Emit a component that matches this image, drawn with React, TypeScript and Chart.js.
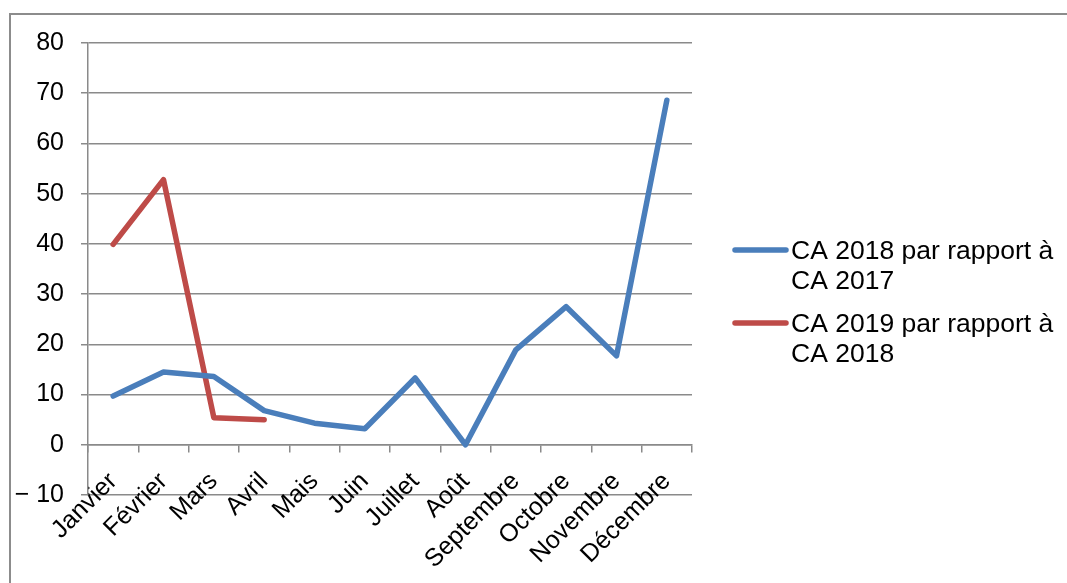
import React, { useEffect, useRef } from "react";
import { Chart, registerables } from "chart.js";

Chart.register(...registerables);

const months = [
  "Janvier", "Février", "Mars", "Avril", "Mais", "Juin",
  "Juillet", "Août", "Septembre", "Octobre", "Novembre", "Décembre",
];
const ca2018vs2017 = [9.7, 14.5, 13.6, 6.8, 4.3, 3.2, 13.3, 0, 18.9, 27.5, 17.7, 68.6];
const ca2019vs2018 = [39.9, 52.8, 5.4, 5.0, null, null, null, null, null, null, null, null];
const seriesNames = [
  ["CA 2018 par rapport à", "CA 2017"],
  ["CA 2019 par rapport à", "CA 2018"],
];
const seriesColors = ["#4A7EBB", "#BE4B48"];
const yMin = -10;
const yMax = 80;
const yStep = 10;

const FONT = "'Liberation Sans', Arial, sans-serif";
const GRID = "#8a8a8a";

const sideLegend = {
  id: "sideLegend",
  afterDraw(chart: any) {
    const ctx = chart.ctx as CanvasRenderingContext2D;
    ctx.save();
    ctx.font = `26.5px ${FONT}`;
    ctx.fillStyle = "#000";
    ctx.textBaseline = "alphabetic";
    ctx.textAlign = "left";
    seriesNames.forEach((lines, i) => {
      const base = 259 + i * 73;
      ctx.strokeStyle = seriesColors[i];
      ctx.lineWidth = 5.5;
      ctx.lineCap = "round";
      ctx.beginPath();
      ctx.moveTo(735, base - 9);
      ctx.lineTo(786, base - 9);
      ctx.stroke();
      lines.forEach((t, j) => ctx.fillText(t, 791, base + j * 29.5));
    });
    ctx.restore();
  },
};

export default function App() {
  const ref = useRef<HTMLCanvasElement | null>(null);

  useEffect(() => {
    if (!ref.current) return;
    const chart = new Chart(ref.current, {
      type: "line",
      data: {
        labels: months,
        datasets: [
          {
            label: seriesNames[0].join(" "),
            data: ca2018vs2017,
            borderColor: seriesColors[0],
            backgroundColor: seriesColors[0],
            borderWidth: 5.5,
            pointRadius: 0,
            tension: 0,
            borderCapStyle: "round",
            borderJoinStyle: "round",
          },
          {
            label: seriesNames[1].join(" "),
            data: ca2019vs2018,
            borderColor: seriesColors[1],
            backgroundColor: seriesColors[1],
            borderWidth: 5.5,
            pointRadius: 0,
            tension: 0,
            borderCapStyle: "round",
            borderJoinStyle: "round",
          },
        ],
      },
      options: {
        responsive: false,
        animation: false,
        layout: { padding: { top: 43, right: 375, bottom: 88, left: 0 } },
        plugins: { legend: { display: false }, tooltip: { enabled: false } },
        scales: {
          x: {
            type: "category",
            offset: true,
            position: { y: 0 } as any,
            grid: {
              offset: true,
              drawOnChartArea: false,
              drawTicks: true,
              tickLength: 7,
              color: GRID,
              lineWidth: 1.5,
            },
            border: { display: true, color: GRID, width: 1.5 },
            ticks: {
              minRotation: 45,
              maxRotation: 45,
              autoSkip: false,
              color: "#000",
              padding: 15,
              font: { family: FONT, size: 25 },
            },
            afterFit: (s: any) => {
              s.height = 0;
            },
          },
          y: {
            min: yMin,
            max: yMax,
            ticks: {
              stepSize: yStep,
              padding: 17,
              color: "#000",
              font: { family: FONT, size: 25 },
              callback: (v: any) => (Number(v) < 0 ? `\u2212 ${Math.abs(Number(v))}` : `${v}`),
            },
            grid: { color: GRID, lineWidth: 1.5, tickLength: 7 },
            border: { display: true, color: GRID, width: 1.5 },
            afterFit: (s: any) => {
              s.width = 88;
            },
          },
        },
      },
      plugins: [sideLegend],
    });
    return () => chart.destroy();
  }, []);

  return (
    <div style={{ position: "fixed", left: 0, top: 0, width: 1067, height: 583, overflow: "hidden", background: "#fff" }}>
      <canvas ref={ref} width={1067} height={583} style={{ position: "absolute", left: 0, top: 0, width: 1067, height: 583 }} />
      <div
        style={{
          position: "absolute",
          left: 9,
          top: 13,
          width: 1200,
          height: 800,
          border: "2px solid #8c8c8c",
          pointerEvents: "none",
        }}
      />
    </div>
  );
}
